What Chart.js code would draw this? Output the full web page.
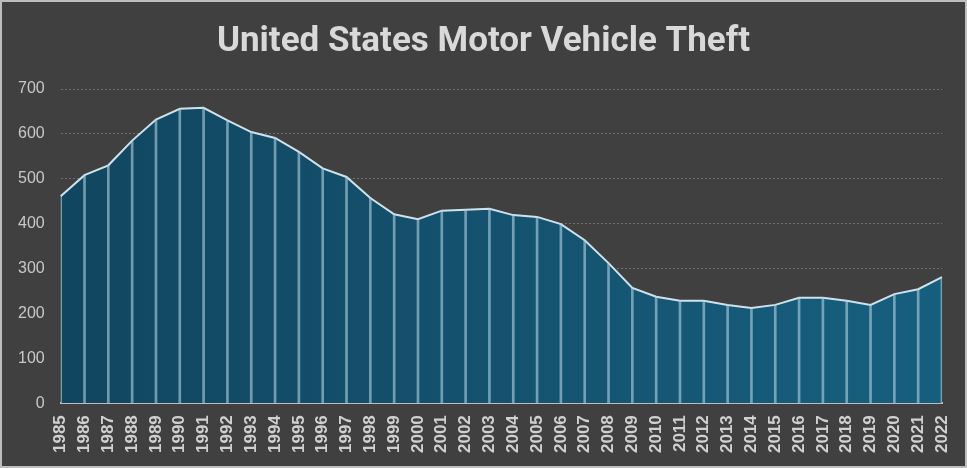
<!DOCTYPE html>
<html>
<head>
<meta charset="utf-8">
<script src="https://cdn.jsdelivr.net/npm/chart.js@4/dist/chart.umd.min.js"></script>
<style>
  html, body { margin: 0; padding: 0; background: #404040; }
  #wrap { width: 967px; height: 468px; box-sizing: border-box; border: 2px solid #bdbdbd; background: #404040; position: relative; }
  canvas { display: block; }
</style>
</head>
<body>
<div id="wrap"><canvas id="c" width="963" height="464"></canvas></div>
<script>
const years = ['1985','1986','1987','1988','1989','1990','1991','1992','1993','1994',
  '1995','1996','1997','1998','1999','2000','2001','2002','2003','2004',
  '2005','2006','2007','2008','2009','2010','2011','2012','2013','2014',
  '2015','2016','2017','2018','2019','2020','2021','2022'];
const theftRate = [461, 508, 530, 585, 632, 656, 658, 630, 604, 591,
  560, 523, 504, 457, 421, 410, 429, 431, 433, 419,
  415, 399, 363, 312, 257, 237, 228, 228, 219, 212,
  219, 235, 235, 228, 219, 243, 254, 281];
const yTicks = [0, 100, 200, 300, 400, 500, 600, 700];
const chartTitle = 'United States Motor Vehicle Theft';

const ctx = document.getElementById('c').getContext('2d');

function areaGradient(context) {
  const chart = context.chart;
  const area = chart.chartArea;
  if (!area) return '#134d68';
  const g = chart.ctx.createLinearGradient(area.left, 0, area.right, 0);
  g.addColorStop(0, '#114660');
  g.addColorStop(1, '#175f7f');
  return g;
}

new Chart(ctx, {
  type: 'line',
  data: {
    labels: years,
    datasets: [
      {
        type: 'line',
        data: theftRate,
        fill: 'origin',
        backgroundColor: areaGradient,
        borderColor: '#cfe2ec',
        borderWidth: 2,
        pointRadius: 0,
        tension: 0,
        order: 2
      },
      {
        type: 'bar',
        data: theftRate,
        backgroundColor: 'rgba(180,210,225,0.6)',
        borderWidth: 0,
        barThickness: 2,
        order: 1
      }
    ]
  },
  options: {
    responsive: false,
    animation: false,
    layout: { padding: { left: 0, right: 0, top: 0, bottom: 1 } },
    plugins: {
      legend: { display: false },
      tooltip: { enabled: false },
      title: {
        display: true,
        text: chartTitle,
        color: '#d9d9d9',
        font: { family: 'Roboto', size: 35, weight: 'bold' },
        padding: { top: 19, bottom: 26 }
      }
    },
    scales: {
      x: {
        type: 'category',
        offset: false,
        grid: { display: false, drawTicks: false },
        border: { display: true, color: '#bfbfbf', width: 2 },
        afterFit: (axis) => { axis.paddingRight = 23; },
        ticks: {
          color: '#d0d0d0',
          font: { family: 'Liberation Sans', size: 17, weight: 'bold' },
          minRotation: 90,
          maxRotation: 90,
          autoSkip: false,
          padding: 12
        }
      },
      y: {
        min: 0,
        max: 700,
        afterBuildTicks: (axis) => { axis.ticks = yTicks.map(v => ({ value: v })); },
        grid: { color: '#707070', lineWidth: 1, drawTicks: false },
        border: { display: false, dash: [2, 2] },
        ticks: {
          color: '#c8c8c8',
          font: { family: 'Liberation Sans', size: 16 },
          padding: 16
        }
      }
    }
  }
});
</script>
</body>
</html>
